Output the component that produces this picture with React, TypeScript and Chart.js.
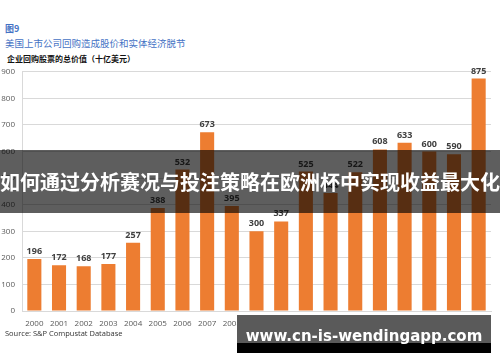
import React, { useEffect, useRef } from "react";
import { Chart, registerables } from "chart.js";

Chart.register(...registerables);

const years = ["2000","2001","2002","2003","2004","2005","2006","2007","2008","2009","2010","2011","2012","2013","2014","2015","2016","2017","2018"];
const buybacks = [196,172,168,177,257,388,532,673,395,300,337,525,444,522,608,633,600,590,875];
const yTicks = [0,100,200,300,400,500,600,700,800,900];

const figLabel = "图9";
const titleText = "美国上市公司回购造成股价和实体经济脱节";
const subtitleText = "企业回购股票的总价值（十亿美元）";
const sourceText = "Source: S&P Compustat Database";
const bannerText = "如何通过分析赛况与投注策略在欧洲杯中实现收益最大化";
const watermarkText = "www.cn-is-wendingapp.com";

const labelPlugin = {
  id: "barLabels",
  afterDatasetsDraw(chart: any) {
    const ctx = chart.ctx;
    const meta = chart.getDatasetMeta(0);
    ctx.save();
    ctx.font = "bold 9px 'Open Sans', 'DejaVu Sans', sans-serif";
    ctx.fillStyle = "#404040";
    ctx.textAlign = "center";
    ctx.textBaseline = "bottom";
    meta.data.forEach((el: any, i: number) => {
      ctx.fillText(String(buybacks[i]), el.x, el.y - 3);
    });
    ctx.restore();
  },
};

export default function App() {
  const ref = useRef<HTMLCanvasElement | null>(null);
  useEffect(() => {
    if (!ref.current) return;
    const chart = new Chart(ref.current, {
      type: "bar",
      data: {
        labels: years,
        datasets: [{
          data: buybacks,
          backgroundColor: "#ED7D31",
          borderWidth: 0,
          categoryPercentage: 1,
          barPercentage: 0.57,
        }],
      },
      options: {
        animation: false,
        responsive: false,
        maintainAspectRatio: false,
        layout: { padding: { top: 11, right: 9, left: 0, bottom: 0 } },
        plugins: { legend: { display: false }, tooltip: { enabled: false }, title: { display: false } },
        scales: {
          x: {
            grid: { display: false },
            border: { display: true, color: "#d9d9d9" },
            ticks: { color: "#595959", font: { size: 8, family: "'Open Sans', 'DejaVu Sans', sans-serif" }, padding: 0, maxRotation: 0, autoSkip: false },
            afterFit: (s: any) => { s.height = 24; },
          },
          y: {
            min: 0,
            max: 900,
            afterBuildTicks: (s: any) => { s.ticks = yTicks.map((v) => ({ value: v })); },
            grid: { color: "#d9d9d9", lineWidth: 1, drawTicks: false },
            border: { display: true, color: "#d9d9d9" },
            ticks: { color: "#595959", font: { size: 8, family: "'Open Sans', 'DejaVu Sans', sans-serif" }, padding: 7 },
            afterFit: (s: any) => { s.width = 22; },
          },
        },
      },
      plugins: [labelPlugin],
    });
    return () => chart.destroy();
  }, []);

  const cjk = "'Noto Sans CJK SC', sans-serif";
  return (
    <div style={{ position: "fixed", left: 0, top: 0, width: 500, height: 362, background: "#fff", overflow: "hidden" }}>
      <div style={{ position: "absolute", left: 5, top: 23, fontFamily: cjk, fontWeight: 700, fontSize: 9, color: "#4472C4", lineHeight: "12px" }}>{figLabel}</div>
      <div style={{ position: "absolute", left: 5, top: 36, fontFamily: cjk, fontSize: 9.5, color: "#4472C4", lineHeight: "14px", whiteSpace: "nowrap" }}>{titleText}</div>
      <div style={{ position: "absolute", left: 7, top: 53, fontFamily: cjk, fontWeight: 700, fontSize: 8, color: "#111", lineHeight: "12px", whiteSpace: "nowrap" }}>{subtitleText}</div>
      <canvas ref={ref} width={500} height={275} style={{ position: "absolute", left: 0, top: 60, width: 500, height: 275 }} />
      <div style={{ position: "absolute", left: 5, top: 328, fontFamily: "'Open Sans', sans-serif", fontSize: 7.5, color: "#333", lineHeight: "10px", whiteSpace: "nowrap" }}>{sourceText}</div>
      <div style={{ position: "absolute", left: 0, top: 150, width: 500, height: 63, background: "rgba(0,0,0,0.63)" }} />
      <div style={{ position: "absolute", left: 0, top: 150, width: 500, height: 63, display: "flex", alignItems: "center", justifyContent: "center", fontFamily: cjk, fontWeight: 700, fontSize: 20, color: "#fff", whiteSpace: "nowrap", lineHeight: "24px" }}>{bannerText}</div>
      <div style={{ position: "absolute", left: 237, top: 315, width: 254, height: 28, background: "#5a5a5a" }} />
      <div style={{ position: "absolute", left: 237, top: 343, width: 254, height: 10, background: "#000" }} />
      <div style={{ position: "absolute", left: 237, top: 326, width: 254, height: 20, display: "flex", alignItems: "center", justifyContent: "center", fontFamily: "'DejaVu Sans', sans-serif", fontWeight: 700, fontSize: 15, color: "#fff", whiteSpace: "nowrap", lineHeight: "20px" }}>{watermarkText}</div>
    </div>
  );
}
